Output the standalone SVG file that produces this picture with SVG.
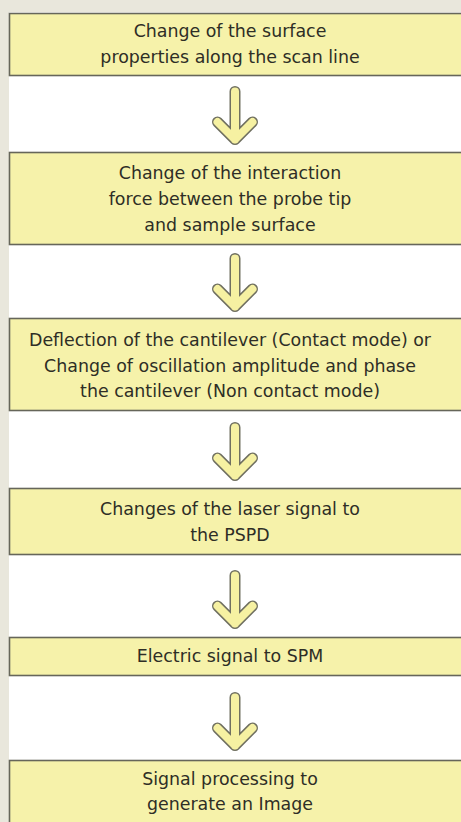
<svg xmlns="http://www.w3.org/2000/svg" xmlns:xlink="http://www.w3.org/1999/xlink" width="461" height="822" viewBox="0 0 461 822">
<defs>
<style>
.bg{fill:#e9e7dc}
.page{fill:#ffffff}
.box{fill:#f6f2aa;stroke:#66665a;stroke-width:1.6}
.t{font-family:"DejaVu Sans",Verdana,sans-serif;font-size:17.4px;fill:#2e2e26;text-anchor:middle}
.ao{fill:none;stroke:#707060;stroke-width:11;stroke-linecap:round;stroke-linejoin:round}
.af{fill:none;stroke:#f6f1a2;stroke-width:8;stroke-linecap:round;stroke-linejoin:round}
</style>
<path id="arr" d="M0,5.5 V53.5 M-17.5,36 L0,53.5 L17.5,36"/>
</defs>
<rect class="bg" x="0" y="0" width="461" height="822"/>
<rect class="page" x="9" y="12" width="452" height="810"/>

<g id="connectors">
<use xlink:href="#arr" class="ao" transform="translate(235,86)"/>
<use xlink:href="#arr" class="af" transform="translate(235,86)"/>
<use xlink:href="#arr" class="ao" transform="translate(235,253)"/>
<use xlink:href="#arr" class="af" transform="translate(235,253)"/>
<use xlink:href="#arr" class="ao" transform="translate(235,422)"/>
<use xlink:href="#arr" class="af" transform="translate(235,422)"/>
<use xlink:href="#arr" class="ao" transform="translate(235,570)"/>
<use xlink:href="#arr" class="af" transform="translate(235,570)"/>
<use xlink:href="#arr" class="ao" transform="translate(235,692)"/>
<use xlink:href="#arr" class="af" transform="translate(235,692)"/>
</g>

<g id="n1">
<rect class="box" x="9.5" y="13.5" width="460" height="62"/>
<text class="t" x="230" y="37">Change of the surface</text>
<text class="t" x="230" y="63">properties along the scan line</text>
</g>
<g id="n2">
<rect class="box" x="9.5" y="152.5" width="460" height="92"/>
<text class="t" x="230" y="179">Change of the interaction</text>
<text class="t" x="230" y="205">force between the probe tip</text>
<text class="t" x="230" y="231">and sample surface</text>
</g>
<g id="n3">
<rect class="box" x="9.5" y="318.5" width="460" height="92"/>
<text class="t" x="230" y="346">Deflection of the cantilever (Contact mode) or</text>
<text class="t" x="230" y="372">Change of oscillation amplitude and phase</text>
<text class="t" x="230" y="397">the cantilever (Non contact mode)</text>
</g>
<g id="n4">
<rect class="box" x="9.5" y="488.5" width="460" height="66"/>
<text class="t" x="230" y="515">Changes of the laser signal to</text>
<text class="t" x="230" y="541">the PSPD</text>
</g>
<g id="n5">
<rect class="box" x="9.5" y="637.5" width="460" height="38"/>
<text class="t" x="230" y="662">Electric signal to SPM</text>
</g>
<g id="n6">
<rect class="box" x="9.5" y="760.5" width="460" height="70"/>
<text class="t" x="230" y="785">Signal processing to</text>
<text class="t" x="230" y="810">generate an Image</text>
</g>
</svg>
